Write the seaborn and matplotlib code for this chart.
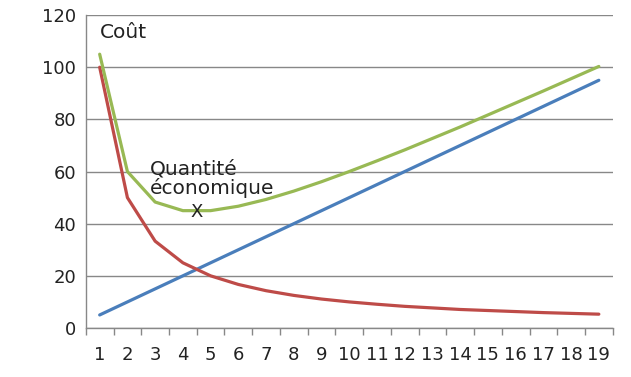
import matplotlib
matplotlib.use("Agg")
import matplotlib.pyplot as plt
import seaborn as sns
import pandas as pd
import numpy as np

sns.set_theme(style="white")
plt.rcParams["font.family"] = ["DejaVu Sans"]

# Data
quantites = list(range(1, 20))
cout_stockage = [5, 10, 15, 20, 25, 30, 35, 40, 45, 50,
                 55, 60, 65, 70, 75, 80, 85, 90, 95]
cout_commande = [100, 50, 33.3, 25, 20, 16.7, 14.3, 12.5, 11.1, 10,
                 9.1, 8.3, 7.7, 7.1, 6.7, 6.3, 5.9, 5.6, 5.3]
cout_total = [105, 60, 48.3, 45, 45, 46.7, 49.3, 52.5, 56.1, 60,
              64.1, 68.3, 72.7, 77.1, 81.7, 86.3, 90.9, 95.6, 100.3]

df = pd.DataFrame({
    "pos": np.arange(len(quantites)),
    "stockage": cout_stockage,
    "commande": cout_commande,
    "total": cout_total,
})

fig = plt.figure(figsize=(6.31, 3.77), dpi=100)
ax = fig.add_axes([0.136, 0.130, 0.835, 0.830])

sns.lineplot(data=df, x="pos", y="stockage", color="#4A7EBB", linewidth=2.3, ax=ax)
sns.lineplot(data=df, x="pos", y="commande", color="#BE4B48", linewidth=2.3, ax=ax)
sns.lineplot(data=df, x="pos", y="total", color="#98B954", linewidth=2.3, ax=ax)

ax.set_xlim(-0.5, len(quantites) - 0.5)
ax.set_ylim(0, 120)
ax.set_yticks(range(0, 121, 20))
ax.set_xticks(df["pos"])
ax.set_xticklabels(quantites)
ax.set_xticks(np.arange(-0.5, len(quantites), 1), minor=True)
ax.tick_params(axis="x", which="major", length=0, pad=13, labelsize=13, colors="#222222")
ax.tick_params(axis="x", which="minor", length=5, color="#888888", width=1, bottom=True)
ax.tick_params(axis="y", length=0, pad=7, labelsize=13, colors="#222222")
ax.set_xlabel("")
ax.set_ylabel("")

ax.grid(axis="y", color="#888888", linewidth=1)
for side in ["top", "right"]:
    ax.spines[side].set_visible(False)
ax.spines["left"].set_color("#888888")
ax.spines["bottom"].set_color("#888888")
ax.spines["left"].set_linewidth(1)
ax.spines["bottom"].set_linewidth(1)

note = dict(fontsize=14.5, color="#222222", va="center", ha="left")
ax.text(0.0, 113.5, "Coût", **note)
ax.text(1.8, 61.0, "Quantité", **note)
ax.text(1.8, 53.5, "économique", **note)
ax.text(3.5, 44.6, "X", fontsize=13, color="#222222", va="center", ha="center")

fig.savefig("out.png", dpi=100)
